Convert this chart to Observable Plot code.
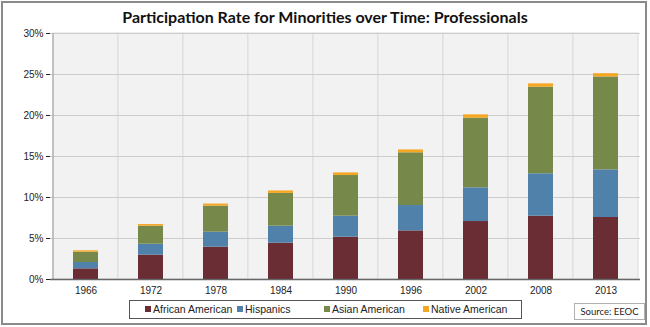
<!DOCTYPE html>
<html>
<head>
<meta charset="utf-8">
<script src="https://cdn.jsdelivr.net/npm/d3@7"></script>
<script src="https://cdn.jsdelivr.net/npm/@observablehq/plot@0.6"></script>
<style>
  body { margin: 0; background: #fff; }
  #wrap { position: relative; width: 650px; height: 327px; overflow: hidden; background: #fff; }
  #frame { position: absolute; left: 1px; top: 1px; width: 646px; height: 324px; border: 2px solid #8a8a8a; box-sizing: border-box; pointer-events: none; }
  #title { position: absolute; left: 0; top: 7px; width: 650px; text-align: center; font: bold 16px Lato, "Open Sans", sans-serif; color: #111; }
  #chart { position: absolute; left: 0; top: 0; }
  #legend { position: absolute; left: 129px; top: 300px; width: 393px; height: 19px; border: 1px solid #555; box-sizing: border-box; font: 10.5px "Liberation Sans", Arial, sans-serif; color: #222; }
  .item { position: absolute; top: 1px; line-height: 15px; white-space: nowrap; }
  .sw { display: inline-block; width: 6px; height: 6px; margin-right: 2px; vertical-align: 1px; }
  #source { position: absolute; left: 574px; top: 303px; width: 71px; height: 17px; border: 1px solid #b0b0b0; box-sizing: border-box; text-align: center; font: 9.5px Lato, "Open Sans", sans-serif; line-height: 15px; color: #222; white-space: nowrap; }
</style>
</head>
<body>
<div id="wrap">
  <div id="title">Participation Rate for Minorities over Time: Professionals</div>
  <div id="chart"></div>
  <div id="legend"></div>
  <div id="source">Source: EEOC</div>
  <div id="frame"></div>
</div>
<script>
const years = ["1966", "1972", "1978", "1984", "1990", "1996", "2002", "2008", "2013"];
const series = ["African American", "Hispanics", "Asian American", "Native American"];
const colors = ["#6a2d33", "#4f81aa", "#76894a", "#f5a623"];
const african  = [1.30, 2.97, 3.94, 4.43, 5.16, 5.93, 7.07, 7.72, 7.56];
const hispanic = [0.77, 1.33, 1.83, 2.07, 2.56, 3.09, 4.11, 5.17, 5.81];
const asian    = [1.26, 2.20, 3.17, 4.00, 4.96, 6.43, 8.49, 10.56, 11.33];
const native   = [0.17, 0.20, 0.26, 0.30, 0.32, 0.35, 0.41, 0.41, 0.40];
const yTicks = [0, 5, 10, 15, 20, 25, 30];

const seriesValues = [african, hispanic, asian, native];
const rows = [];
years.forEach((yr, i) => {
  series.forEach((s, j) => rows.push({year: yr, series: s, value: seriesValues[j][i]}));
});

const plot = Plot.plot({
  width: 650,
  height: 300,
  marginLeft: 50,
  marginRight: 10,
  marginTop: 33,
  marginBottom: 21,
  style: {background: "transparent", fontFamily: "'Liberation Sans', Arial, sans-serif", fontSize: "10px", color: "#222"},
  x: {type: "band", domain: years, padding: 0, label: null, tickSize: 0, tickPadding: 7},
  y: {domain: [0, 30], ticks: yTicks, tickFormat: d => d + "%", label: null, tickSize: 4, tickPadding: 3},
  color: {domain: series, range: colors},
  marks: [
    Plot.barY(years, {x: d => d, y1: 0, y2: 30, fill: "#f2f2f2", stroke: "#dcdcdc", strokeWidth: 1}),
    Plot.gridY(yTicks.slice(1), {stroke: "#cdcdcd", strokeOpacity: 1, strokeWidth: 1}),
    Plot.barY(rows, Plot.stackY({x: "year", y: "value", fill: "series", insetLeft: 20, insetRight: 20})),
    Plot.ruleX([0], {x: () => years[0], stroke: "#999", dx: -33, y1: 0, y2: 30}),
    Plot.ruleY([0], {stroke: "#666", strokeWidth: 1.5})
  ]
});
document.getElementById("chart").appendChild(plot);

const legend = document.getElementById("legend");
const itemX = [15, 107, 194, 293];
series.forEach((s, j) => {
  const el = document.createElement("div");
  el.className = "item";
  el.style.left = itemX[j] + "px";
  const sw = document.createElement("span");
  sw.className = "sw";
  sw.style.background = colors[j];
  el.appendChild(sw);
  el.appendChild(document.createTextNode(s));
  legend.appendChild(el);
});
</script>
</body>
</html>
